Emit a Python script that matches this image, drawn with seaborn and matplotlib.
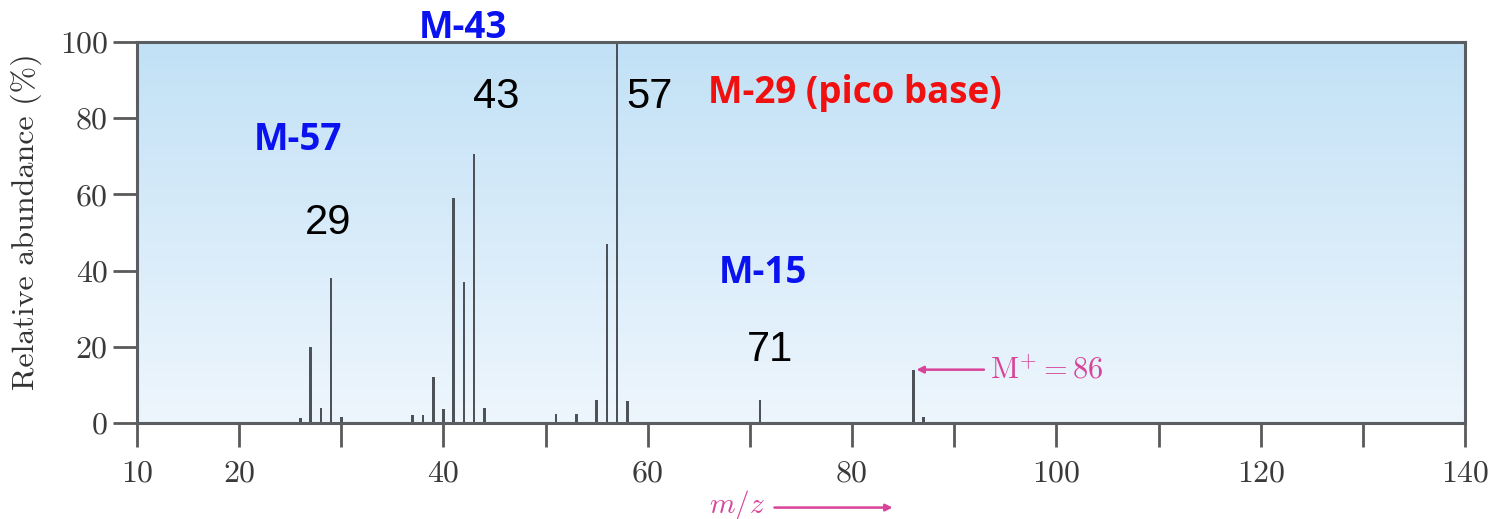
import numpy as np
import pandas as pd
import matplotlib
matplotlib.use("Agg")
import matplotlib.pyplot as plt
from matplotlib.colors import LinearSegmentedColormap
import seaborn as sns

# Mass spectrum of hexane (C6H14)
mz = [26, 27, 28, 29, 30, 37, 38, 39, 40, 41, 42, 43, 44,
      51, 53, 55, 56, 57, 58, 71, 86, 87]
abundance = [1.3, 20, 4, 38, 1.5, 2, 2, 12, 3.7, 59, 37, 70.5, 4,
             2.4, 2.4, 6, 47, 100, 5.7, 6, 14, 1.5]

x_ticks = [10, 20, 30, 40, 50, 60, 70, 80, 90, 100, 110, 120, 130, 140]
x_labels = ["10", "20", "", "40", "", "60", "", "80", "", "100", "", "120", "", "140"]
y_ticks = [0, 20, 40, 60, 80, 100]

# Fragment labels: (text, m/z, abundance, colour)
peak_labels = [("29", 28.7, 52.5, "black"), ("43", 45.2, 85.6, "black"),
               ("57", 60.2, 85.6, "black"), ("71", 72.0, 19.2, "black")]
loss_labels = [("M-57", 25.8, 74.3, "#0a12f0"), ("M-43", 41.9, 103.7, "#0a12f0"),
               ("M-29 (pico base)", 80.3, 86.6, "#f01010"),
               ("M-15", 71.3, 39.4, "#0a12f0")]

sns.set_theme(style="white")
plt.rcParams["mathtext.fontset"] = "cm"

spec = pd.DataFrame({"mz": mz, "abundance": abundance})

fig = plt.figure(figsize=(14.92, 5.19), dpi=100)
ax = fig.add_axes([137 / 1492, 1 - 423 / 519, 1328 / 1492, 381 / 519])

# Vertical gradient background
cmap = LinearSegmentedColormap.from_list("bg", ["#eef6fd", "#c2e1f6"])
grad = np.linspace(0, 1, 256).reshape(-1, 1)
ax.imshow(grad, extent=[10, 140, 0, 100], origin="lower", aspect="auto",
          cmap=cmap, zorder=0)

sns.barplot(data=spec, x="mz", y="abundance", native_scale=True, width=0.26,
            color="#4d5259", saturation=1, edgecolor="none", ax=ax, zorder=2)

ax.set_xlim(10, 140)
ax.set_ylim(0, 100)
ax.set_xticks(x_ticks)
ax.set_xticklabels(x_labels)
ax.set_yticks(y_ticks)
ax.set_xlabel("")
ax.set_ylabel("Relative abundance (%)", family="cmr10", fontsize=23,
              color="#333333")
ax.yaxis.set_label_coords(-0.0715, 0.528)

for lab in ax.get_xticklabels() + ax.get_yticklabels():
    lab.set_family("cmr10")
    lab.set_fontsize(23)
    lab.set_color("#3a3a3a")
ax.tick_params(axis="both", direction="out", length=17, width=2,
               color="#5a5a5a", bottom=True, left=True)
ax.tick_params(axis="x", pad=10)
ax.tick_params(axis="y", pad=4)
for s in ax.spines.values():
    s.set_color("#5a5e63")
    s.set_linewidth(2.2)
    s.set_visible(True)

for text, x, y, c in peak_labels:
    ax.text(x, y, text, ha="center", va="center", fontsize=30,
            family="Liberation Sans", color=c, zorder=3)
for text, x, y, c in loss_labels:
    ax.text(x, y, text, ha="center", va="center", fontsize=26.5,
            family="Open Sans", fontweight="bold", color=c, zorder=3,
            clip_on=False)

pink = "#d8449a"
ax.annotate(r"$\mathrm{M}^{+} = 86$", xy=(86.3, 14), xytext=(93.5, 14),
            ha="left", va="center", fontsize=22, color=pink,
            arrowprops=dict(arrowstyle="-|>", color=pink, lw=1.8,
                            mutation_scale=10, shrinkA=2, shrinkB=0),
            zorder=4)

# m/z axis label with arrow
ax.text(0.452, -0.215, r"$m/z$", transform=ax.transAxes, ha="center",
        va="center", fontsize=21, color=pink, clip_on=False)
ax.annotate("", xy=(0.569, -0.222), xytext=(0.48, -0.222),
            xycoords="axes fraction", textcoords="axes fraction",
            arrowprops=dict(arrowstyle="-|>", color=pink, lw=1.8,
                            mutation_scale=10, shrinkA=0, shrinkB=0))

fig.savefig("out.png", dpi=100)
